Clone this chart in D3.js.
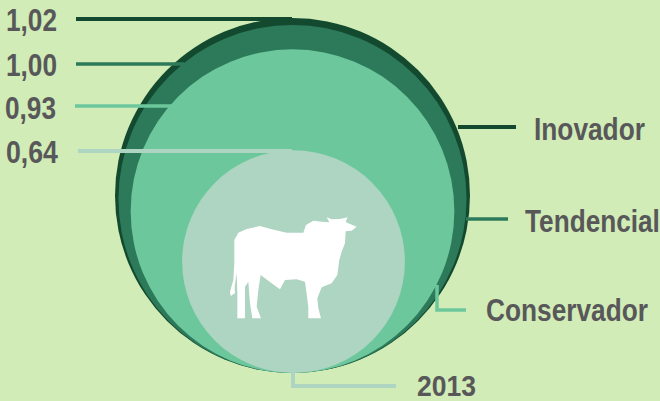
<!DOCTYPE html>
<html>
<head>
<meta charset="utf-8">
<script src="https://cdnjs.cloudflare.com/ajax/libs/d3/7.8.5/d3.min.js"></script>
<style>
html, body { margin: 0; padding: 0; background: #d1ecb6; overflow: hidden; }
svg { display: block; }
text { font-family: "Liberation Sans", Arial, sans-serif; font-weight: bold; fill: #58585a; }
</style>
</head>
<body>
<div id="chart"></div>
<script>
const categories = ["Inovador", "Tendencial", "Conservador", "2013"];
const values = [1.02, 1.00, 0.93, 0.64];
const valueLabels = ["1,02", "1,00", "0,93", "0,64"];
const colors = ["#134a2f", "#2c7a5a", "#6cc89c", "#aed4c2"];

const width = 660, height = 401;
const cx = 292.5, baseY = 373;
const circleDx = [0, 0, 0, 1];

const svg = d3.select("#chart").append("svg")
    .attr("width", width)
    .attr("height", height);

const r = d3.scaleLinear().domain([0, 1.02]).range([0, 177.5]);

// nested circles, all touching at the bottom
svg.append("g").selectAll("circle")
    .data(values)
    .enter().append("circle")
    .attr("cx", (d, i) => cx + circleDx[i])
    .attr("cy", d => baseY - r(d))
    .attr("r", d => r(d))
    .attr("fill", (d, i) => colors[i]);

// leader lines, one from the value label and one from the category label
const valueLeaders = [
    [[76, 19], [292, 19]],
    [[76, 64], [184, 64]],
    [[75, 106], [172, 106]],
    [[78, 151], [292, 151]]
];
const categoryLeaders = [
    [[458, 127], [516, 127]],
    [[466, 219], [508, 219]],
    [[437, 285], [437, 310], [466, 310]],
    [[293, 373], [293, 386], [396, 386]]
];
const leaderWidths = [4, 3.5, 3.5, 4];

const line = d3.line();
[valueLeaders, categoryLeaders].forEach(group => {
    svg.append("g").selectAll("path")
        .data(group)
        .enter().append("path")
        .attr("d", d => line(d))
        .attr("fill", "none")
        .attr("stroke", (d, i) => colors[i])
        .attr("stroke-width", (d, i) => leaderWidths[i]);
});

// cow silhouette, traced in a 3x box
const cow = [[103,150],[115,128],[140,117],[180,108],[215,118],[260,128],[310,128],[318,105],[340,92],[365,95],[388,97],[380,82],[395,88],[420,87],[443,82],[437,95],[445,100],[470,110],[455,122],[437,124],[435,160],[425,185],[418,210],[412,255],[395,280],[365,292],[352,325],[355,355],[363,385],[325,385],[325,350],[315,275],[290,268],[255,270],[240,298],[215,280],[182,255],[175,300],[170,350],[183,385],[157,385],[150,340],[145,275],[135,290],[135,385],[112,385],[112,310],[110,250],[104,290],[105,310],[92,318],[90,305],[100,270],[103,220]];
svg.append("path")
    .attr("transform", "translate(200,190) scale(0.3333)")
    .attr("d", line(cow) + "Z")
    .attr("fill", "#ffffff");

// labels are condensed in the original, so each is squeezed to its measured width
function addLabels(labels, xs, ys, lens, sizes) {
    svg.append("g").selectAll("text")
        .data(labels)
        .enter().append("text")
        .attr("font-size", (d, i) => sizes[i])
        .text(d => d)
        .attr("transform", function(d, i) {
            const k = lens[i] / this.getComputedTextLength();
            return `translate(${xs[i]},${ys[i]}) scale(${k},1)`;
        });
}

addLabels(valueLabels, [6, 6, 5, 6], [31, 76, 119, 163], [51, 51, 51, 52], [31, 31, 31, 31]);
// 2013 sits against the bottom edge, so it stays a little smaller
addLabels(categories, [534, 525, 486, 417], [140, 232, 321, 396], [111, 135, 162, 59], [31, 31, 31, 29]);
</script>
</body>
</html>
